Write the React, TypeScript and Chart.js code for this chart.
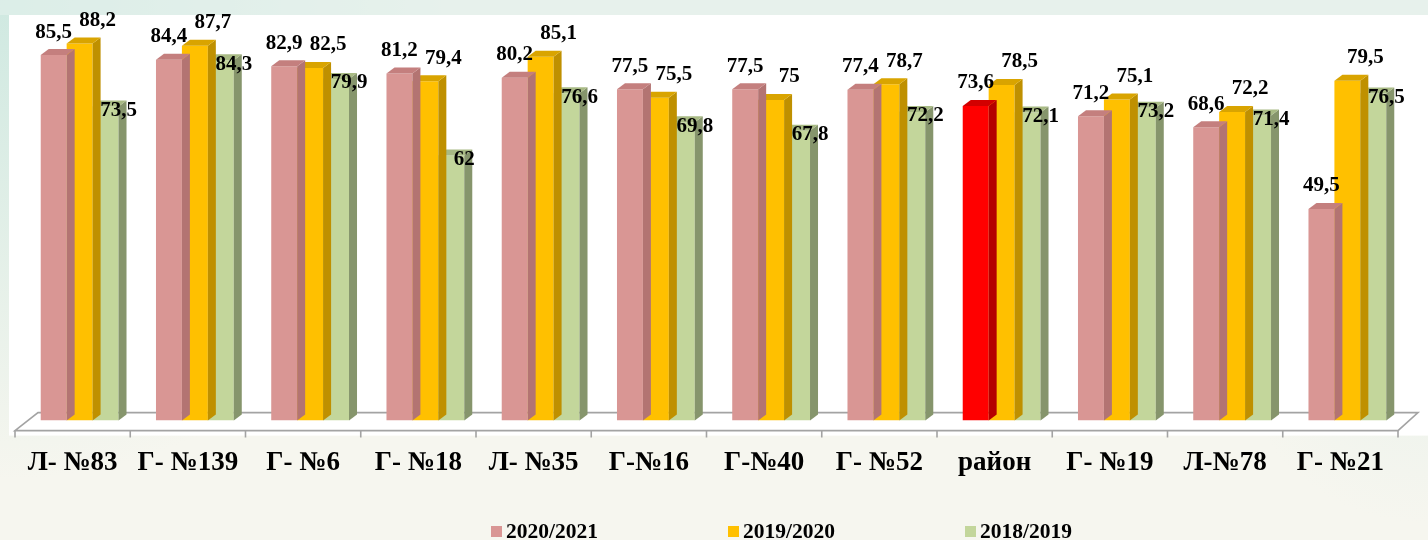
import { useEffect, useRef } from 'react';
import { Chart, registerables } from 'chart.js';

Chart.register(...registerables);

const categories = ['Л- №83', 'Г- №139', 'Г- №6', 'Г- №18', 'Л- №35', 'Г-№16', 'Г-№40', 'Г- №52', 'район', 'Г- №19', 'Л-№78', 'Г- №21'];
const seriesNames = ['2020/2021', '2019/2020', '2018/2019'];
const values2021 = [85.5, 84.4, 82.9, 81.2, 80.2, 77.5, 77.5, 77.4, 73.6, 71.2, 68.6, 49.5];
const values2020 = [88.2, 87.7, 82.5, 79.4, 85.1, 75.5, 75, 78.7, 78.5, 75.1, 72.2, 79.5];
const values2019 = [73.5, 84.3, 79.9, 62, 76.6, 69.8, 67.8, 72.2, 72.1, 73.2, 71.4, 76.5];
const highlightCategory = 'район';

const FONT = "'Liberation Serif', 'Times New Roman', Times, serif";
const DX = 8;
const DY = 6;

const palettes = [
  { front: '#d99694', top: '#c47f7e', side: '#b37472' },
  { front: '#ffc000', top: '#d9a400', side: '#bf9000' },
  { front: '#c3d69b', top: '#a8ba84', side: '#86956c' },
];
const highlight = { front: '#ff0000', top: '#d20000', side: '#b50000' };

// label offsets per series (relative to bar centre / front-top)
const labelRule = [
  { dx: 0, dy: -23 },
  { dx: 18, dy: -23 },
  { dx: 13, dy: 4 },
];

function paletteFor(di: number, i: number) {
  if (di === 0 && categories[i] === highlightCategory) return highlight;
  return palettes[di];
}

function fmt(v: number) {
  return String(v).replace('.', ',');
}

const bar3d = {
  id: 'bar3d',
  beforeDraw(chart: any) {
    const { ctx, width, height, chartArea } = chart;
    ctx.save();
    ctx.fillStyle = '#f6f6ef';
    ctx.fillRect(0, 0, width, height);
    const g = ctx.createRadialGradient(0, 0, 0, 0, 0, 480);
    g.addColorStop(0, 'rgba(205,232,224,0.95)');
    g.addColorStop(1, 'rgba(205,232,224,0)');
    ctx.fillStyle = g;
    ctx.fillRect(0, 0, width, height);
    const g3 = ctx.createRadialGradient(width, height * 0.6, 0, width, height * 0.6, 200);
    g3.addColorStop(0, 'rgba(222,238,232,0.5)');
    g3.addColorStop(1, 'rgba(222,238,232,0)');
    ctx.fillStyle = g3;
    ctx.fillRect(0, 0, width, height);
    ctx.fillStyle = 'rgba(225,239,235,0.7)';
    ctx.fillRect(0, 0, width, 15);
    // white plot panel
    ctx.fillStyle = '#ffffff';
    const px = chartArea.left - 13;
    ctx.fillRect(px, 15, width - px, chartArea.bottom + 15 - 15);
    ctx.restore();
  },
  beforeDatasetsDraw(chart: any) {
    const { ctx, chartArea } = chart;
    const L = chartArea.left;
    const R = chartArea.right;
    const B = chartArea.bottom;
    const w = (R - L) / categories.length;
    ctx.save();
    ctx.strokeStyle = '#a3a3a3';
    ctx.lineWidth = 1.6;
    ctx.beginPath();
    ctx.moveTo(L - 7, B + 10);
    ctx.lineTo(L + 16, B - 8);
    ctx.lineTo(R + 13, B - 8);
    ctx.lineTo(R - 7, B + 10);
    ctx.closePath();
    ctx.stroke();
    ctx.beginPath();
    for (let i = 0; i <= categories.length; i++) {
      const x = L - 7 + i * w;
      ctx.moveTo(x, B + 10);
      ctx.lineTo(x, B + 17);
    }
    ctx.stroke();
    ctx.restore();
  },
  afterDatasetDraw(chart: any, args: any) {
    const { ctx } = chart;
    const meta = args.meta;
    const di = args.index;
    ctx.save();
    meta.data.forEach((el: any, i: number) => {
      const { x, y, base, width } = el.getProps(['x', 'y', 'base', 'width'], true);
      const x0 = x - width / 2;
      const x1 = x + width / 2;
      const p = paletteFor(di, i);
      ctx.fillStyle = p.side;
      ctx.beginPath();
      ctx.moveTo(x1, y);
      ctx.lineTo(x1 + DX, y - DY);
      ctx.lineTo(x1 + DX, base - DY);
      ctx.lineTo(x1, base);
      ctx.closePath();
      ctx.fill();
      ctx.fillStyle = p.top;
      ctx.beginPath();
      ctx.moveTo(x0, y);
      ctx.lineTo(x0 + DX, y - DY);
      ctx.lineTo(x1 + DX, y - DY);
      ctx.lineTo(x1, y);
      ctx.closePath();
      ctx.fill();
    });
    ctx.restore();
  },
  afterDatasetsDraw(chart: any) {
    const { ctx } = chart;
    ctx.save();
    ctx.font = `bold 21px ${FONT}`;
    ctx.fillStyle = '#000000';
    ctx.textAlign = 'center';
    ctx.textBaseline = 'middle';
    chart.data.datasets.forEach((ds: any, di: number) => {
      const meta = chart.getDatasetMeta(di);
      meta.data.forEach((el: any, i: number) => {
        const { x, y } = el.getProps(['x', 'y'], true);
        const r = labelRule[di];
        ctx.fillText(fmt(ds.data[i]), x + r.dx, y + r.dy);
      });
    });
    ctx.restore();
  },
  afterDraw(chart: any) {
    const { ctx } = chart;
    ctx.save();
    ctx.font = `bold 21.5px ${FONT}`;
    ctx.textBaseline = 'alphabetic';
    ctx.textAlign = 'left';
    const startX = 491;
    const step = 237;
    chart.data.datasets.forEach((ds: any, di: number) => {
      const x = startX + di * step;
      ctx.fillStyle = palettes[di].front;
      ctx.fillRect(x, 526, 11, 11);
      ctx.fillStyle = '#000000';
      ctx.fillText(ds.label, x + 15, 538);
    });
    ctx.restore();
  },
};

export default function App() {
  const ref = useRef<HTMLCanvasElement | null>(null);
  useEffect(() => {
    document.body.style.margin = '0';
    if (!ref.current) return;
    const chart = new Chart(ref.current, {
      type: 'bar',
      data: {
        labels: categories,
        datasets: [
          { label: seriesNames[0], data: values2021, backgroundColor: categories.map((_, i) => paletteFor(0, i).front) },
          { label: seriesNames[1], data: values2020, backgroundColor: categories.map((_, i) => paletteFor(1, i).front) },
          { label: seriesNames[2], data: values2019, backgroundColor: categories.map((_, i) => paletteFor(2, i).front) },
        ],
      },
      options: {
        animation: false,
        responsive: true,
        maintainAspectRatio: false,
        layout: { padding: { left: 22, right: 23, top: 14.5, bottom: 35 } },
        datasets: { bar: { categoryPercentage: 0.675, barPercentage: 1.0, borderWidth: 0 } },
        plugins: { legend: { display: false }, tooltip: { enabled: false } },
        scales: {
          x: {
            grid: { display: false, drawTicks: false },
            border: { display: false },
            ticks: {
              color: '#000000',
              font: { family: FONT, size: 27, weight: 'bold' },
              padding: 26,
              labelOffset: -7,
              maxRotation: 0,
              autoSkip: false,
            },
          },
          y: { display: false, min: 0, max: 95 },
        },
      },
      plugins: [bar3d],
    });
    return () => chart.destroy();
  }, []);
  return (
    <div style={{ position: 'fixed', left: 0, top: 0, width: 1428, height: 540 }}>
      <canvas ref={ref} />
    </div>
  );
}
